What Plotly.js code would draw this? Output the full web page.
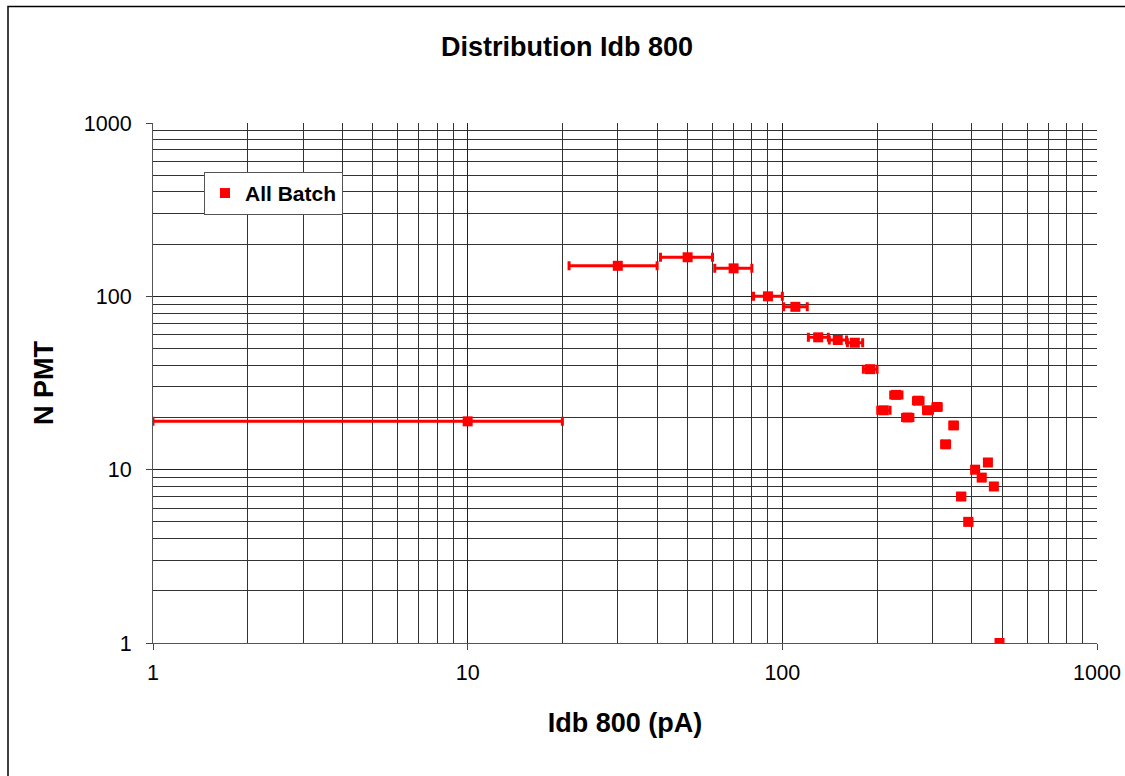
<!DOCTYPE html>
<html>
<head>
<meta charset="utf-8">
<script src="https://cdn.plot.ly/plotly-3.0.1.min.js"></script>
<style>
html,body{margin:0;padding:0;background:#fff;}
#chart{width:1125px;height:776px;}
</style>
</head>
<body>
<div id="chart"></div>
<script>
// Bin centres (pA) and counts
var idb = [10, 30, 50, 70, 90, 110, 130, 150, 170, 190, 210, 230, 250, 270, 290, 310, 330, 350, 370, 390, 410, 430, 450, 470, 490];
var nPmt = [19, 150, 168, 145, 100, 87, 58, 56, 54, 38, 22, 27, 20, 25, 22, 23, 14, 18, 7, 5, 10, 9, 11, 8, 1];
var errPlus = [10, 10, 10, 10, 10, 10, 10, 10, 10, 10, 10, 10, 10, 10, 10, 10, 10, 10, 10, 10, 10, 10, 10, 10, 10];
var errMinus = [9, 9, 9, 9, 9, 9, 9, 9, 9, 9, 9, 9, 9, 9, 9, 9, 9, 9, 9, 9, 9, 9, 9, 9, 9];
var seriesName = "All Batch";
var majorTicks = [1, 10, 100, 1000];
var majorLabels = ["1", "10", "100", "1000"];
var minorTicks = [2,3,4,5,6,7,8,9,20,30,40,50,60,70,80,90,200,300,400,500,600,700,800,900];

var FONT = "Liberation Sans, Arial, sans-serif";

var trace = {
  x: idb, y: nPmt, type: "scatter", mode: "markers", name: "<b>" + seriesName + "</b>",
  marker: {symbol: "square", size: 10, color: "#ff0000"},
  error_x: {type: "data", symmetric: false, array: errPlus, arrayminus: errMinus,
            color: "#ff0000", thickness: 3, width: 4.5}
};

function axis(extra) {
  var a = {
    type: "log",
    tickmode: "array", tickvals: majorTicks, ticktext: majorLabels,
    ticks: "outside", ticklen: 6, tickcolor: "#444", tickwidth: 1,
    showgrid: true, gridcolor: "#222", gridwidth: 1,
    showline: true, linecolor: "#555", linewidth: 1, mirror: false,
    zeroline: false,
    tickfont: {family: FONT, size: 21.5, color: "#000"},
    minor: {tickmode: "array", tickvals: minorTicks, showgrid: true, gridcolor: "#333", gridwidth: 1, ticks: ""}
  };
  for (var k in extra) a[k] = extra[k];
  return a;
}

var layout = {
  width: 1125, height: 776,
  margin: {l: 153, r: 28, t: 123, b: 133},
  paper_bgcolor: "#fff", plot_bgcolor: "#fff",
  showlegend: true,
  title: {text: "<b>Distribution Idb 800</b>", font: {family: FONT, size: 27, color: "#000"},
          x: 0.504, xref: "container", xanchor: "center", y: 1 - 47 / 776, yref: "container", yanchor: "middle"},
  xaxis: axis({range: [0, 3], ticklabelstandoff: 4,
               title: {text: "<b>Idb 800 (pA)</b>", font: {family: FONT, size: 27, color: "#000"}, standoff: 29}}),
  yaxis: axis({range: [0, 3], ticklabelstandoff: 10,
               title: {text: "<b>N PMT</b>", font: {family: FONT, size: 27, color: "#000"}, standoff: 22}}),
  legend: {x: 0.054, y: 0.906, xanchor: "left", yanchor: "top",
           bgcolor: "#fff", bordercolor: "#555", borderwidth: 1,
           font: {family: FONT, size: 21, color: "#000"},
           itemwidth: 30, tracegroupgap: 0},
  shapes: [{type: "rect", xref: "paper", yref: "paper",
            x0: (8 - 153) / 944, x1: (1135 - 153) / 944,
            y0: (643 - 790) / 520, y1: (643 - 6.5) / 520,
            line: {color: "#000", width: 1.5}, fillcolor: "rgba(0,0,0,0)", layer: "below"}]
};

Plotly.newPlot("chart", [trace], layout, {displayModeBar: false, staticPlot: true});
</script>
</body>
</html>
